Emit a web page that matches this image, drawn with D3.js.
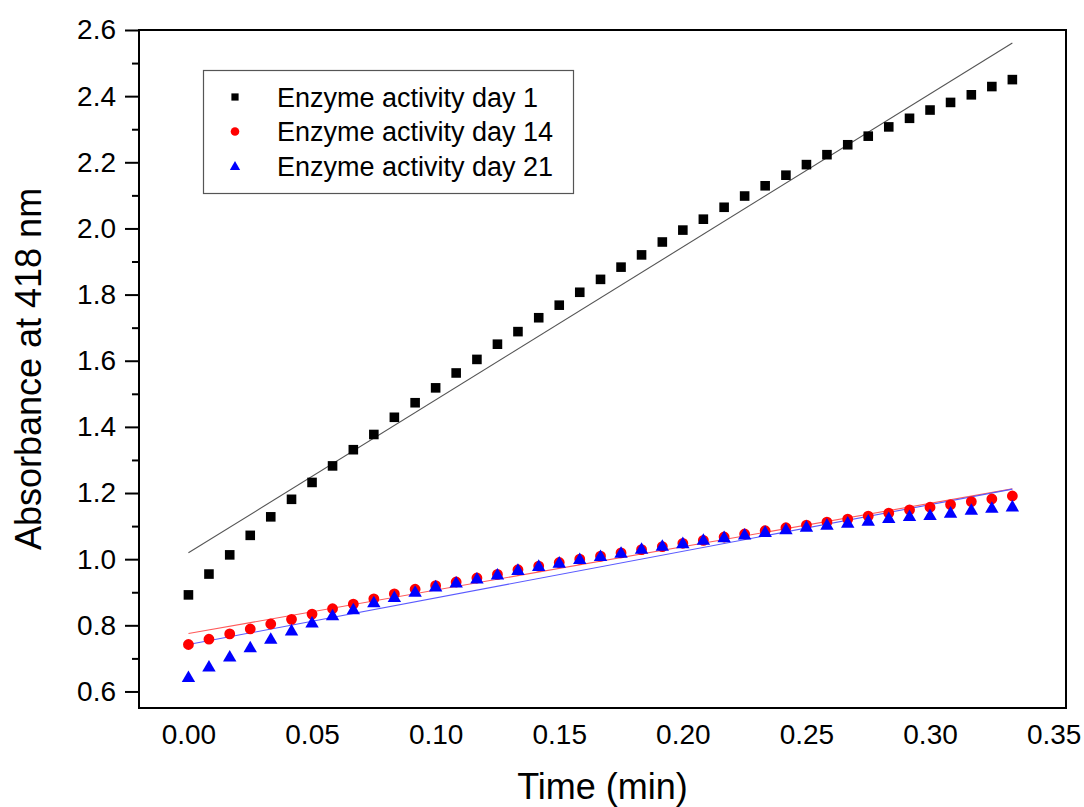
<!DOCTYPE html>
<html>
<head>
<meta charset="utf-8">
<script src="https://cdn.jsdelivr.net/npm/d3@7"></script>
<style>
  html, body { margin: 0; padding: 0; background: #fff; }
  svg { display: block; font-family: "Liberation Sans", Arial, sans-serif; }
</style>
</head>
<body>
<svg id="chart" width="1084" height="807"></svg>
<script>
// Time points (min), one reading every 0.5 s
const time = [0, 0.0083, 0.0167, 0.025, 0.0333, 0.0417, 0.05, 0.0583, 0.0667, 0.075,
  0.0833, 0.0917, 0.1, 0.1083, 0.1167, 0.125, 0.1333, 0.1417, 0.15, 0.1583,
  0.1667, 0.175, 0.1833, 0.1917, 0.2, 0.2083, 0.2167, 0.225, 0.2333, 0.2417,
  0.25, 0.2583, 0.2667, 0.275, 0.2833, 0.2917, 0.3, 0.3083, 0.3167, 0.325, 0.3333];

// Absorbance at 418 nm
const day1 = [0.892, 0.955, 1.013, 1.072, 1.128, 1.181, 1.232, 1.282, 1.331, 1.377,
  1.429, 1.473, 1.518, 1.563, 1.604, 1.650, 1.688, 1.730, 1.768, 1.807,
  1.846, 1.883, 1.920, 1.959, 1.995, 2.028, 2.064, 2.098, 2.129, 2.161,
  2.193, 2.223, 2.253, 2.279, 2.307, 2.333, 2.358, 2.381, 2.404, 2.429, 2.450];
const day14 = [0.742, 0.758, 0.774, 0.789, 0.804, 0.818, 0.834, 0.850, 0.864, 0.880,
  0.895, 0.909, 0.920, 0.931, 0.943, 0.954, 0.968, 0.979, 0.990, 1.000,
  1.009, 1.019, 1.029, 1.038, 1.048, 1.057, 1.067, 1.076, 1.086, 1.095,
  1.103, 1.112, 1.121, 1.130, 1.139, 1.149, 1.157, 1.165, 1.174, 1.182, 1.191];
const day21 = [0.643, 0.675, 0.705, 0.733, 0.759, 0.784, 0.808, 0.830, 0.848, 0.869,
  0.885, 0.901, 0.917, 0.929, 0.941, 0.953, 0.967, 0.979, 0.989, 1.000,
  1.009, 1.019, 1.031, 1.040, 1.048, 1.058, 1.066, 1.074, 1.082, 1.090,
  1.098, 1.104, 1.110, 1.116, 1.124, 1.130, 1.133, 1.140, 1.149, 1.155, 1.159];

const seriesNames = ["Enzyme activity day 1", "Enzyme activity day 14", "Enzyme activity day 21"];
const xTicks = [0, 0.05, 0.10, 0.15, 0.20, 0.25, 0.30, 0.35];
const yTicks = [0.6, 0.8, 1.0, 1.2, 1.4, 1.6, 1.8, 2.0, 2.2, 2.4, 2.6];
const yMinorTicks = [0.7, 0.9, 1.1, 1.3, 1.5, 1.7, 1.9, 2.1, 2.3, 2.5];

const series = [
  { name: seriesNames[0], values: day1,  color: "#000000", fit: "#555555", shape: d3.symbolSquare,   size: 92, legendSize: 52, dy: 0 },
  { name: seriesNames[1], values: day14, color: "#ff0000", fit: "#ff5a5a", shape: d3.symbolCircle,   size: 92, legendSize: 58, dy: 0 },
  { name: seriesNames[2], values: day21, color: "#0000ff", fit: "#5a5aff", shape: d3.symbolTriangle, size: 78, legendSize: 46, dy: 1 }
];

const svg = d3.select("#chart");
const m = { left: 139, top: 30, right: 1066, bottom: 708 };

const x = d3.scaleLinear().domain([-0.02, 0.355]).range([m.left, m.right]);
const y = d3.scaleLinear().domain([0.55, 2.6]).range([m.bottom, m.top]);

// Least-squares straight line through each series
function linearFit(xs, ys) {
  const mx = d3.mean(xs), my = d3.mean(ys);
  let sxy = 0, sxx = 0;
  xs.forEach((xi, i) => { sxy += (xi - mx) * (ys[i] - my); sxx += (xi - mx) ** 2; });
  const slope = sxy / sxx;
  return { slope, intercept: my - slope * mx };
}

// Fit lines
const x0 = d3.min(time), x1 = d3.max(time);
series.forEach(s => {
  const f = linearFit(time, s.values);
  svg.append("line")
    .attr("x1", x(x0)).attr("y1", y(f.intercept + f.slope * x0))
    .attr("x2", x(x1)).attr("y2", y(f.intercept + f.slope * x1))
    .attr("stroke", s.fit).attr("stroke-width", 1.1);
});

// Markers
series.forEach(s => {
  const sym = d3.symbol().type(s.shape).size(s.size);
  svg.append("g").selectAll("path")
    .data(s.values)
    .join("path")
    .attr("d", sym)
    .attr("transform", (v, i) => `translate(${x(time[i])},${y(v) + s.dy})`)
    .attr("fill", s.color);
});

// Frame
svg.append("rect")
  .attr("x", m.left).attr("y", m.top)
  .attr("width", m.right - m.left).attr("height", m.bottom - m.top)
  .attr("fill", "none").attr("stroke", "#000").attr("stroke-width", 2);

// Y axis: major ticks with labels, minor ticks without
const yAxis = svg.append("g")
  .attr("transform", `translate(${m.left},0)`)
  .call(d3.axisLeft(y).tickValues(yTicks).tickSize(14).tickPadding(9).tickFormat(d3.format(".1f")));
yAxis.select(".domain").remove();
yAxis.selectAll(".tick line").attr("stroke-width", 2);
yAxis.selectAll("text").attr("font-size", 28).attr("fill", "#000")
  .attr("font-family", "'Liberation Sans', Arial, sans-serif");

const yMinor = svg.append("g")
  .attr("transform", `translate(${m.left},0)`)
  .call(d3.axisLeft(y).tickValues(yMinorTicks).tickSize(7).tickFormat(""));
yMinor.select(".domain").remove();
yMinor.selectAll(".tick line").attr("stroke-width", 2);

// X axis: labels only
const xAxis = svg.append("g")
  .attr("transform", `translate(0,${m.bottom})`)
  .call(d3.axisBottom(x).tickValues(xTicks).tickSize(0).tickPadding(16).tickFormat(d3.format(".2f")));
xAxis.select(".domain").remove();
xAxis.selectAll("text").attr("font-size", 28).attr("fill", "#000")
  .attr("font-family", "'Liberation Sans', Arial, sans-serif");

// Axis titles
svg.append("text")
  .attr("x", (m.left + m.right) / 2).attr("y", 799)
  .attr("text-anchor", "middle").attr("font-size", 36).attr("fill", "#000")
  .text("Time (min)");
svg.append("text")
  .attr("transform", `translate(41,${(m.top + m.bottom) / 2}) rotate(-90)`)
  .attr("text-anchor", "middle").attr("font-size", 36).attr("fill", "#000")
  .text("Absorbance at 418 nm");

// Legend
const legend = svg.append("g");
legend.append("rect")
  .attr("x", 203.5).attr("y", 70.5).attr("width", 370).attr("height", 123)
  .attr("fill", "#fff").attr("stroke", "#555").attr("stroke-width", 1.2);
const rowY = [97, 131.5, 166];
series.forEach((s, i) => {
  legend.append("path").attr("d", d3.symbol().type(s.shape).size(s.legendSize))
    .attr("transform", `translate(235,${rowY[i] + s.dy})`)
    .attr("fill", s.color);
  legend.append("text")
    .attr("x", 277).attr("y", rowY[i] + 9.5)
    .attr("font-size", 27).attr("fill", "#000")
    .text(s.name);
});
</script>
</body>
</html>
